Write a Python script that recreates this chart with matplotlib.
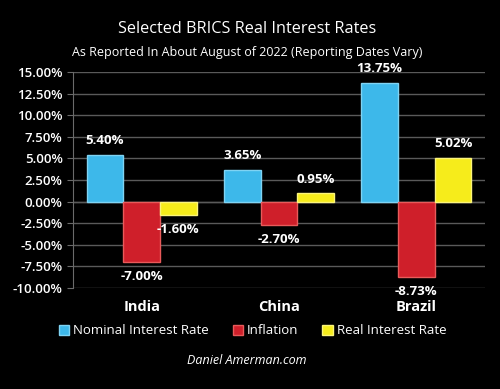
import numpy as np
import matplotlib
matplotlib.use("Agg")
import matplotlib.pyplot as plt
from matplotlib.ticker import FuncFormatter, MultipleLocator

countries = ["India", "China", "Brazil"]
nominal = [5.40, 3.65, 13.75]
inflation = [-7.00, -2.70, -8.73]
real = [-1.60, 0.95, 5.02]
series_names = ["Nominal Interest Rate", "Inflation", "Real Interest Rate"]
colors = ["#3db8ea", "#cf1f2a", "#f6ec1b"]
edges = ["#7fd3f3", "#e85a5a", "#fbf47a"]

plt.rcParams["font.family"] = ["Open Sans", "DejaVu Sans"]

fig = plt.figure(figsize=(5.0, 3.89), dpi=100, facecolor="black")
ax = fig.add_axes([0.146, 0.26, 0.824, 0.555], facecolor="black")

x = np.arange(len(countries))
w = 0.267
for i, vals in enumerate([nominal, inflation, real]):
    pos = x + (i - 1) * w
    ax.bar(pos, vals, width=w, color=colors[i], edgecolor=edges[i],
           linewidth=1.0, label=series_names[i], zorder=3)
    for px, v in zip(pos, vals):
        off = 0.9 if v >= 0 else -0.9
        ax.text(px, v + off, f"{v:.2f}%", ha="center",
                va="bottom" if v >= 0 else "top", color="white",
                fontsize=9.5, fontweight="bold", zorder=4)

ax.set_xlim(-0.5, 2.5)
ax.set_ylim(-10, 15)
ax.yaxis.set_major_locator(MultipleLocator(2.5))
ax.yaxis.set_major_formatter(FuncFormatter(lambda v, p: f"{v:.2f}%"))
ax.grid(axis="y", color="#5a5a5a", linewidth=1.0, zorder=0)
ax.axhline(0, color="#5a5a5a", linewidth=1.0, zorder=2)
for s in ["top", "right", "bottom"]:
    ax.spines[s].set_visible(False)
ax.spines["left"].set_color("#6a6a6a")
ax.tick_params(axis="y", colors="white", labelsize=9.5, length=4, color="#6a6a6a")
for t in ax.get_yticklabels():
    t.set_fontweight("semibold")
ax.tick_params(axis="x", length=0, pad=9)
ax.set_xticks(x)
ax.set_xticklabels(countries, color="white", fontsize=10.5, fontweight="bold")

fig.text(0.495, 0.925, "Selected BRICS Real Interest Rates", ha="center",
         va="center", color="white", fontsize=11.7)
fig.text(0.495, 0.866, "As Reported In About August of 2022 (Reporting Dates Vary)",
         ha="center", va="center", color="white", fontsize=9.0)

leg = fig.legend(loc="center", bbox_to_anchor=(0.505, 0.150), ncol=3, frameon=False,
                 fontsize=9.5, handlelength=0.8, handleheight=0.8,
                 handletextpad=0.3, columnspacing=1.8)
for t in leg.get_texts():
    t.set_color("white")

fig.text(0.494, 0.072, "Daniel Amerman.com", ha="center", va="center",
         color="white", fontsize=9, style="italic")

fig.savefig("out.png", dpi=100, facecolor="black")
